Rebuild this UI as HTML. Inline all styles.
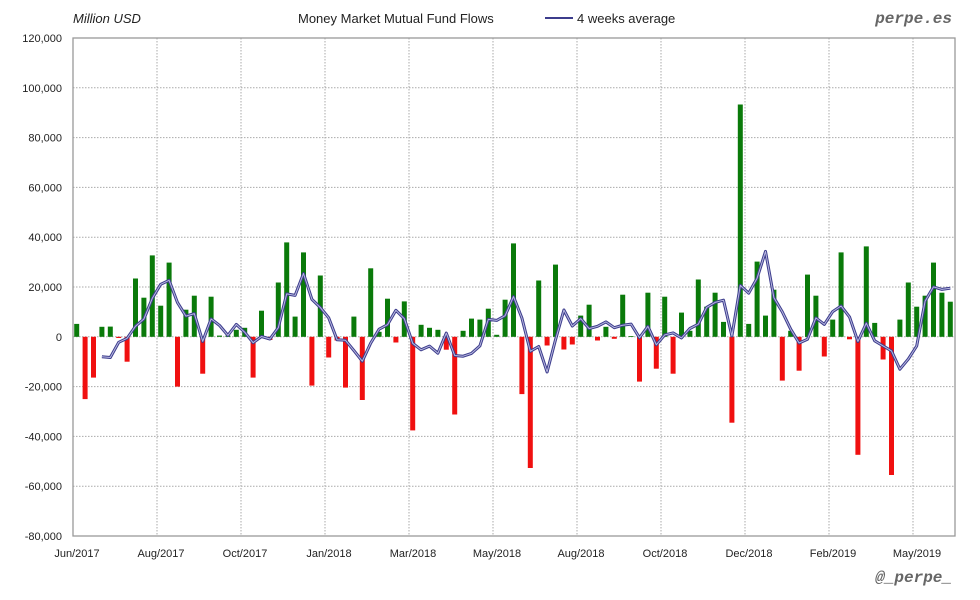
<!DOCTYPE html>
<html><head><meta charset="utf-8"><style>
body{margin:0;background:#fff;width:980px;height:600px;overflow:hidden}
svg{display:block}
text{font-family:"Liberation Sans","DejaVu Sans",sans-serif;font-size:11px;fill:#222}
</style></head><body>
<svg id="c" width="980" height="600" xmlns="http://www.w3.org/2000/svg"></svg>
<script>
const v=[5.2,-25,-16.4,4,4.1,-0.5,-10,23.4,15.7,32.7,12.5,29.8,-20,10.9,16.5,-14.8,16.1,0.5,0.5,2.8,3.6,-16.4,10.5,-1.3,21.8,37.9,8.1,33.9,-19.6,24.6,-8.3,-1.5,-20.4,8.1,-25.4,27.5,2,15.3,-2.3,14.2,-37.6,4.8,3.6,2.8,-5.2,-31.2,2.4,7.3,6.9,11.3,0.8,14.9,37.5,-23,-52.7,22.6,-3.5,29,-5.1,-3.1,8.5,12.9,-1.5,4,-0.8,16.9,0.3,-18,17.7,-12.8,16.1,-14.8,9.7,2.4,23,12.1,17.7,6,-34.5,93.3,5.2,30.2,8.5,18.9,-17.6,2.4,-13.6,25,16.5,-7.9,6.9,33.9,-1,-47.4,36.3,5.6,-9.1,-55.5,6.9,21.8,12.1,16.5,29.8,17.7,14.1];
const L=73,R=955,T=38,B=536;const Y=k=>T+(120-k)*(B-T)/200;const X=i=>76.7+8.4*i;
let s='';
for(let k=-80;k<=120;k+=20){const y=Y(k).toFixed(1);
 s+=`<line x1="${L}" x2="${R}" y1="${y}" y2="${y}" stroke="#aaa" stroke-dasharray="1.5,1.5"/>`;
 s+=`<text x="62" y="${+y+4}" text-anchor="end">${k==0?'0':k.toLocaleString('en-US')+',000'}</text>`;}
const labs=['Jun/2017','Aug/2017','Oct/2017','Jan/2018','Mar/2018','May/2018','Aug/2018','Oct/2018','Dec/2018','Feb/2019','May/2019'];
labs.forEach((t,j)=>{const x=73+84*j;if(j>0)s+=`<line x1="${x}" x2="${x}" y1="${T}" y2="${B}" stroke="#aaa" stroke-dasharray="1.5,1.5"/>`;
 s+=`<text x="${x+4}" y="557" text-anchor="middle">${t}</text>`;});
v.forEach((d,i)=>{const x=X(i)-2.5,y0=Y(0),y1=Y(d);
 s+=`<rect x="${x.toFixed(1)}" y="${Math.min(y0,y1).toFixed(1)}" width="5" height="${Math.max(Math.abs(y1-y0),0.8).toFixed(1)}" fill="${d>=0?'#0a7a0a':'#f01010'}"/>`;});
let p=[];for(let i=3;i<v.length;i++){const a=(v[i]+v[i-1]+v[i-2]+v[i-3])/4;p.push(X(i).toFixed(1)+','+Y(a).toFixed(1));}
s+=`<polyline points="${p.join(' ')}" fill="none" stroke="#3c3c8c" stroke-width="3" stroke-linejoin="round"/>`;
s+=`<polyline points="${p.join(' ')}" fill="none" stroke="#b8b8e0" stroke-width="1" stroke-linejoin="round"/>`;
s+=`<rect x="${L}" y="${T}" width="${R-L}" height="${B-T}" fill="none" stroke="#999" stroke-width="1.3"/>`;
s+=`<text x="73" y="23" style="font-style:italic;font-size:13px">Million USD</text>`;
s+=`<text x="298" y="23" style="font-size:13px">Money Market Mutual Fund Flows</text>`;
s+=`<line x1="545" x2="573" y1="18" y2="18" stroke="#3c3c8c" stroke-width="2"/>`;
s+=`<text x="577" y="23" style="font-size:13px">4 weeks average</text>`;
s+=`<text x="952" y="23" text-anchor="end" style="font-family:'Liberation Mono',monospace;font-style:italic;font-weight:bold;font-size:16px;fill:#666">perpe.es</text>`;
s+=`<text x="952" y="582" text-anchor="end" style="font-family:'Liberation Mono',monospace;font-style:italic;font-weight:bold;font-size:16px;fill:#666">@_perpe_</text>`;
document.getElementById('c').innerHTML=s;
</script>
</body></html>
